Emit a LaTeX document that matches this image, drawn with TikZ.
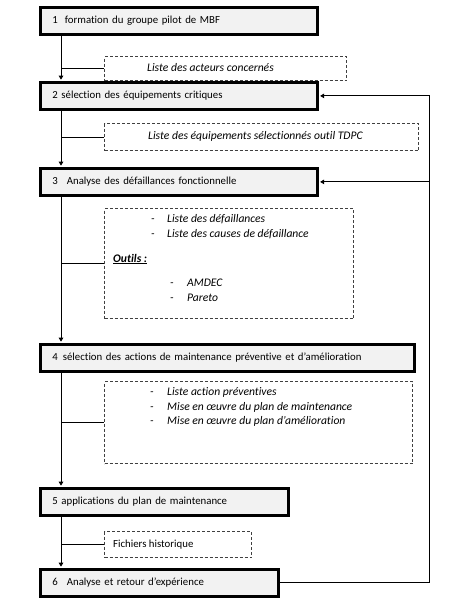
\documentclass[tikz,border=0pt]{standalone}
\usepackage{fontspec}
\setmainfont{Carlito}[Ligatures={TeX,NoCommon}]
\usetikzlibrary{arrows.meta}
\tikzset{
  stepbox/.style={draw, line width=2.8pt, fill=black!5, anchor=north west,
    minimum height=27pt, inner xsep=12pt, align=left},
  listbox/.style={draw=black!75, line width=1.3pt, dash pattern=on 3pt off 2pt,
    anchor=north west, inner sep=0pt},
  item/.style={anchor=west, inner sep=0pt, font=\fontsize{11.6pt}{14pt}\selectfont\itshape},
  link/.style={line width=0.9pt},
  flow/.style={link, -{Triangle[length=4pt,width=4.5pt]}, shorten >=1.3pt},
}
\begin{document}
\begin{tikzpicture}[x=1pt, y=-1pt, font=\fontsize{10.8pt}{13pt}\selectfont]
  \useasboundingbox (0,0) rectangle (455,610);
  \foreach \y/\w/\t [count=\n] in {
        6/253/{1\hspace{7pt}formation du groupe pilot de MBF},
        81/253/{2 sélection des équipements critiques},
        167/253/{3\hspace{9pt}Analyse des défaillances fonctionnelle},
        343/350/{4\hspace{5pt}sélection des actions de maintenance préventive et d’amélioration},
        487/224/{5 applications du plan de maintenance},
        568/214/{6\hspace{9pt}Analyse et retour d’expérience}
  } {
       \node[stepbox, text width=\w pt] (b\n) at (39,\y) {\t};
  }
  \foreach \y/\w/\h [count=\n] in {
        56/242/24, 123/314/27, 208/249/110, 381/308/82, 531/147/26
  } {
       \node[listbox, minimum width=\w pt, minimum height=\h pt] (d\n) at (104,\y) {};
  }
  \node[item] (t1) at (147,68) {Liste des acteurs concernés};
  \node[item] (t2) at (148,136) {Liste des équipements sélectionnés outil TDPC};
  \foreach \t [count=\n] in {Liste des défaillances, Liste des causes de défaillance} {
       \node[item] (a\n) at (151,204+15*\n) {\makebox[16pt][l]{-}\t};
  }
  \node[item, font=\fontsize{11.6pt}{14pt}\selectfont\bfseries\itshape] (tools) at (113,259) {\underline{Outils :}};
  \foreach \t [count=\n] in {AMDEC, Pareto} {
       \node[item] (o\n) at (170,268+15*\n) {\makebox[17pt][l]{-}\t};
  }
  \foreach \t [count=\n] in {
        Liste action préventives,
        Mise en œuvre du plan de maintenance,
        Mise en œuvre du plan d’amélioration
  } {
       \node[item] (p\n) at (150,378+14.5*\n) {\makebox[17pt][l]{-}\t};
  }
  \node[item, font=\fontsize{10.8pt}{13pt}\selectfont] (t5) at (113,545) {Fichiers historique};
  % spine on the left, loop back on the right
  \coordinate (spine) at (61,0);
  \coordinate (loop) at (429,0);
  \foreach \a/\b in {1/2,2/3,3/4,4/5,5/6} {
       \draw[flow] (b\a.south -| spine) -- (b\b.north -| spine);
  }
  \foreach \n in {1,...,5} {
       \draw[link] (d\n.west -| spine) -- (d\n.west);
  }
  \draw[flow] (b6.east) -- (b6.east -| loop) -- (b2.east -| loop) -- (b2.east);
  \draw[flow] (b3.east -| loop) -- (b3.east);
\end{tikzpicture}
\end{document}
